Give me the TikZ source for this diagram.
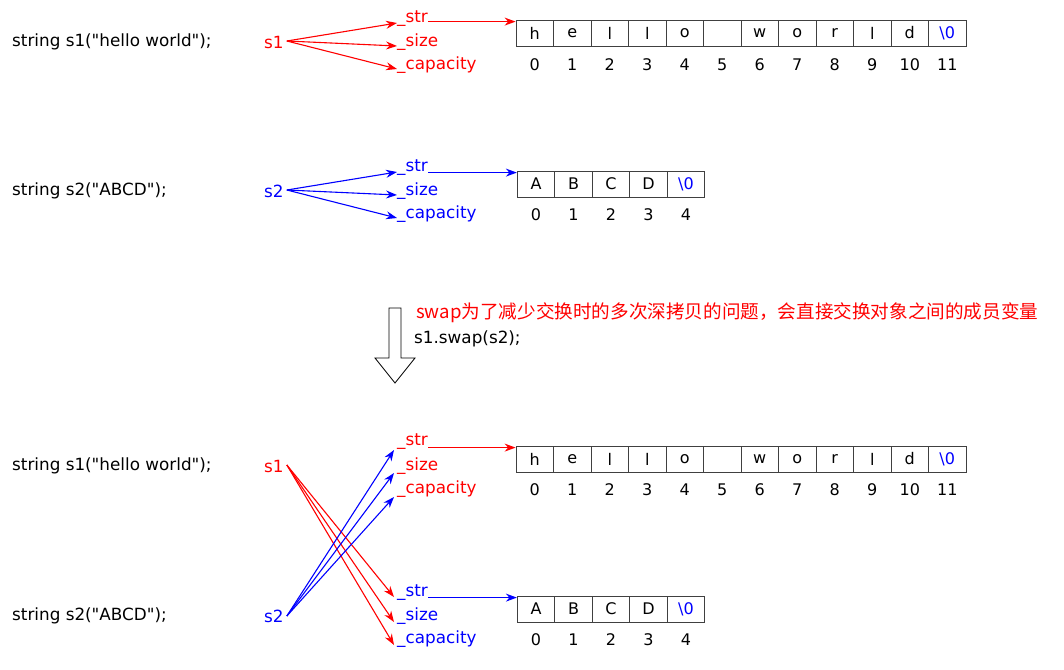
\documentclass[tikz,border=0pt]{standalone}
\usepackage{fontspec}
\setmainfont{DejaVu Sans}[Ligatures=TeXOff]
\newfontfamily\cjk{Noto Sans CJK SC}
\usetikzlibrary{arrows.meta,calc}
\definecolor{myred}{RGB}{255,0,0}
\definecolor{myblue}{RGB}{0,0,255}
\begin{document}
\begin{tikzpicture}[x=1pt,y=-1pt,
  txt/.style={font=\fontsize{16.8}{18}\selectfont, inner sep=0pt, anchor=west},
  lbl/.style={txt},
  cell/.style={draw=black!75, line width=0.8pt, minimum width=37.5pt, minimum height=26pt, inner sep=0pt, font=\fontsize{16}{18}\selectfont},
  idx/.style={inner sep=0pt, font=\fontsize{16}{18}\selectfont},
  arr/.style={line width=1.1pt, -{Stealth[length=11pt,width=8pt]}},
  hollow/.style={draw=black, line width=0.8pt, fill=white}
]
\useasboundingbox (0,0) rectangle (1064,669);

% ---------- Row 1 ----------
\node[txt] (code1) at (12,42) {string s1("hello world");};
\node[txt, text=myred] (sa) at (264,42) {s1};
\node[lbl, text=myred] (stra) at (397,19) {\_str};
\node[lbl, text=myred] (sizea) at (397,42) {\_size};
\node[lbl, text=myred] (capa) at (397,65) {\_capacity};
\foreach \c [count=\i from 0] in {h,e,l,l,o,{},w,o,r,l,d}
  \node[cell] (a\i) at ({534.75+37.5*\i},33) {\c};
\node[cell, text=myblue] (a11) at ({534.75+37.5*11},33) {\textbackslash 0};
\foreach \i in {0,...,11}
  \node[idx] (ai\i) at ({534.75+37.5*\i},65) {\i};
\coordinate (sao) at ($(sa.east)+(3,-1)$);
\draw[arr, myred] (sao) -- ($(stra.west)+(0,4)$);
\draw[arr, myred] (sao) -- ($(sizea.west)+(0,4)$);
\draw[arr, myred] (sao) -- ($(capa.west)+(0,4)$);
\coordinate (ta) at ($(a0.north west)+(0,2)$);
\draw[arr, myred] (stra.east |- ta) -- (ta);

% ---------- Row 2 ----------
\node[txt] (code2) at (12,191) {string s2("ABCD");};
\node[txt, text=myblue] (sb) at (264,191) {s2};
\node[lbl, text=myblue] (strb) at (397,168) {\_str};
\node[lbl, text=myblue] (sizeb) at (397,191) {\_size};
\node[lbl, text=myblue] (capb) at (397,214) {\_capacity};
\foreach \c [count=\i from 0] in {A,B,C,D}
  \node[cell] (b\i) at ({536+37.5*\i},184) {\c};
\node[cell, text=myblue] (b4) at ({536+37.5*4},184) {\textbackslash 0};
\foreach \i in {0,...,4}
  \node[idx] (bi\i) at ({536+37.5*\i},215) {\i};
\coordinate (sbo) at ($(sb.east)+(3,-1)$);
\draw[arr, myblue] (sbo) -- ($(strb.west)+(0,4)$);
\draw[arr, myblue] (sbo) -- ($(sizeb.west)+(0,4)$);
\draw[arr, myblue] (sbo) -- ($(capb.west)+(0,4)$);
\coordinate (tb) at ($(b0.north west)+(0,2)$);
\draw[arr, myblue] (strb.east |- tb) -- (tb);

% ---------- Middle ----------
\draw[hollow] (389,308) -- (401,308) -- (401,358) -- (415,358) -- (395,383) -- (375,358) -- (389,358) -- cycle;
\node[inner sep=0pt, anchor=west, text=myred, font=\cjk\fontsize{18.6}{20}\selectfont] (note) at (416,313) {swap为了减少交换时的多次深拷贝的问题，会直接交换对象之间的成员变量};
\node[txt] (call) at (414,339) {s1.swap(s2);};

% ---------- Row 3 ----------
\node[txt] (code3) at (12,466) {string s1("hello world");};
\node[txt, text=myred] (sc) at (264,466) {s1};
\node[lbl, text=myred] (strc) at (397,442) {\_str};
\node[lbl, text=myred] (sizec) at (397,466) {\_size};
\node[lbl, text=myred] (capc) at (397,489) {\_capacity};
\foreach \c [count=\i from 0] in {h,e,l,l,o,{},w,o,r,l,d}
  \node[cell] (c\i) at ({534.75+37.5*\i},459) {\c};
\node[cell, text=myblue] (c11) at ({534.75+37.5*11},459) {\textbackslash 0};
\foreach \i in {0,...,11}
  \node[idx] (ci\i) at ({534.75+37.5*\i},490) {\i};
\coordinate (tc) at ($(c0.north west)+(0,2)$);
\draw[arr, myred] (strc.east |- tc) -- (tc);

% ---------- Row 4 ----------
\node[txt] (code4) at (12,616) {string s2("ABCD");};
\node[txt, text=myblue] (sd) at (264,616) {s2};
\node[lbl, text=myblue] (strd) at (397,593) {\_str};
\node[lbl, text=myblue] (sized) at (397,616) {\_size};
\node[lbl, text=myblue] (capd) at (397,639) {\_capacity};
\foreach \c [count=\i from 0] in {A,B,C,D}
  \node[cell] (d\i) at ({536+37.5*\i},609) {\c};
\node[cell, text=myblue] (d4) at ({536+37.5*4},609) {\textbackslash 0};
\foreach \i in {0,...,4}
  \node[idx] (di\i) at ({536+37.5*\i},640) {\i};
\coordinate (td) at ($(d0.north west)+(0,2)$);
\draw[arr, myblue] (strd.east |- td) -- (td);

% crossed arrows
\coordinate (sco) at ($(sc.east)+(3,-1)$);
\coordinate (sdo) at ($(sd.east)+(3,0)$);
\draw[arr, myred] (sco) -- ($(strd.west)+(-3,4)$);
\draw[arr, myred] (sco) -- ($(sized.west)+(-3,6)$);
\draw[arr, myred] (sco) -- ($(capd.west)+(-3,6)$);
\draw[arr, myblue] (sdo) -- ($(strc.west)+(-3,8)$);
\draw[arr, myblue] (sdo) -- ($(sizec.west)+(-3,7)$);
\draw[arr, myblue] (sdo) -- ($(capc.west)+(-3,8)$);
\end{tikzpicture}
\end{document}
